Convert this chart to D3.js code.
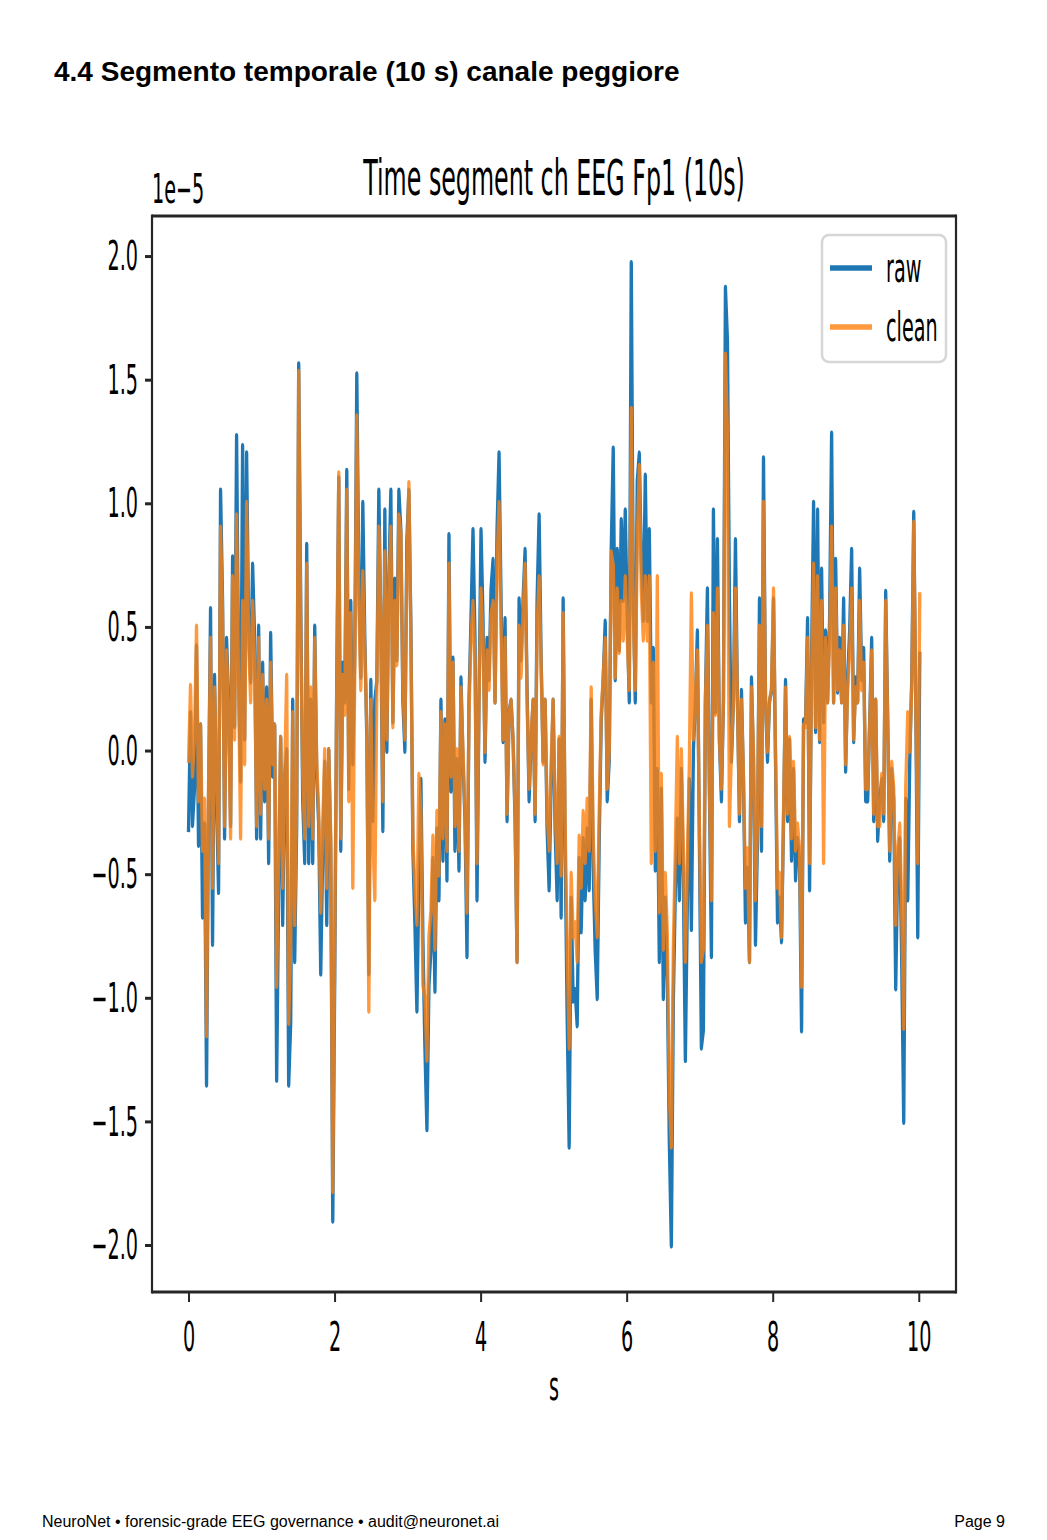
<!DOCTYPE html>
<html>
<head>
<meta charset="utf-8">
<script src="https://cdn.jsdelivr.net/npm/d3@7"></script>
<style>
  html, body { margin: 0; padding: 0; background: #fff; }
  svg { display: block; }
</style>
</head>
<body>
<svg id="page" width="1047" height="1540"></svg>
<script>
// values in units of 1e-5 (V), one sample every SAMPLE_STEP seconds
const SAMPLE_STEP = 0.027435;

const rawValues = [
  -0.33, 0.15, -0.30, -0.15, 0.42, -0.38, 0.10, -0.67, -0.30, -1.35,
  -0.20, 0.57, -0.78, 0.30, -0.20, -0.57, 1.05, 0.60, -0.35, 0.45,
  0.20, -0.30, 0.78, 0.10, 1.27, 0.30, -0.12, 1.23, 0.05, 1.20,
  0.50, 0.28, 0.75, 0.45, -0.35, 0.50, -0.35, 0.35, -0.20, 0.25,
  -0.45, 0.47, -0.10, 0.10, -1.33, -0.55, 0.05, -0.70, -0.10, 0.00,
  -1.35, -1.10, 0.20, -0.85, -0.30, 1.56, 0.60, -0.20, -0.45, 0.83,
  -0.45, 0.20, -0.45, 0.50, -0.10, -0.30, -0.90, -0.40, -0.05, -0.70,
  0.00, -0.40, -1.90, -0.90, 0.30, 1.10, -0.40, 0.35, 0.20, 1.13,
  -0.15, 0.60, -0.05, 0.40, 1.52, 0.70, 0.30, 1.00, 0.45, 0.05,
  -0.90, 0.28, -0.28, 0.20, 0.28, 1.05, 0.50, -0.32, 0.97, 0.00,
  0.69, 1.05, 0.12, 0.69, 0.37, 1.05, 0.89, 0.20, 0.00, 0.85,
  1.05, 0.50, -0.40, -0.70, -1.05, -0.52, -0.12, -0.77, -1.20, -1.53,
  -0.95, -0.81, -0.44, -0.97, -0.32, -0.60, 0.20, -0.44, 0.12, -0.52,
  0.87, -0.16, 0.37, -0.40, -0.04, -0.48, 0.29, -0.04, -0.28, -0.83,
  0.20, 0.53, 0.89, 0.45, -0.60, 0.20, 0.89, 0.53, -0.04, 0.45,
  0.29, 0.65, 0.77, 0.20, 0.89, 1.20, 0.61, 0.04, 0.53, -0.28,
  0.16, 0.20, 0.04, -0.28, -0.85, 0.61, 0.37, 0.61, 0.81, 0.24,
  -0.20, 0.04, 0.20, -0.28, 0.61, 0.95, 0.37, -0.04, 0.20, -0.32,
  -0.56, -0.12, 0.20, -0.32, -0.60, 0.04, -0.67, 0.61, -0.40, -1.07,
  -1.60, -0.60, -1.01, -0.97, -1.11, -0.44, -0.73, -0.36, -0.60, -0.32,
  -0.56, 0.20, -0.48, -0.81, -1.00, -0.36, 0.12, 0.29, 0.52, -0.20,
  -0.04, 0.81, 1.22, 0.29, 0.81, 0.41, 0.93, 0.61, 0.97, 0.53,
  0.20, 1.97, 0.61, 0.20, 1.09, 1.20, 0.77, 0.53, 1.11, 0.53,
  0.89, 0.20, 0.41, -0.48, -0.08, -0.85, -0.16, -1.00, -0.60, -0.93,
  -1.58, -2.00, -1.01, -0.56, -0.28, -0.60, -0.08, -0.52, -1.25, -0.60,
  -0.12, -0.72, 0.00, 0.20, 0.48, -0.36, -1.20, -1.13, 0.20, 0.65,
  -0.16, -0.83, 0.97, 0.16, 0.85, 0.04, -0.20, 0.20, 1.87, 1.66,
  0.61, -0.04, 0.20, 0.85, 0.20, -0.28, 0.24, -0.12, -0.69, -0.48,
  -0.85, 0.29, -0.04, -0.78, -0.36, 0.61, -0.40, 1.18, 0.20, -0.04,
  0.20, 0.24, 0.61, -0.04, -0.69, -0.60, -0.77, -0.28, 0.28, -0.28,
  0.04, -0.44, -0.08, -0.52, -0.36, -0.44, -1.13, 0.12, 0.12, 0.53,
  -0.56, 0.37, 1.00, 0.08, 0.97, 0.04, 0.73, 0.12, 0.48, 0.20,
  0.53, 1.28, 0.20, 0.77, 0.24, 0.45, 0.20, 0.61, -0.08, 0.29,
  0.48, 0.81, 0.04, 0.29, 0.20, 0.73, 0.29, 0.41, -0.20, -0.20,
  0.12, 0.45, -0.28, 0.20, -0.36, -0.20, -0.12, -0.28, 0.64, 0.12,
  -0.44, -0.08, -0.20, -0.96, -0.44, -0.36, -0.85, -1.50, -0.20, -0.60,
  -0.04, 0.29, 0.96, 0.20, -0.75, 0.40
];

const cleanValues = [
  -0.05, 0.26, -0.10, 0.05, 0.50, -0.20, 0.10, -0.40, -0.20, -1.15,
  -0.15, 0.45, -0.55, 0.25, -0.10, -0.45, 0.90, 0.55, -0.30, 0.40,
  0.15, -0.35, 0.70, 0.05, 0.95, 0.25, -0.35, 0.60, -0.05, 1.00,
  0.45, 0.20, 0.60, 0.35, -0.30, 0.45, -0.25, 0.30, -0.15, 0.20,
  -0.35, 0.35, -0.05, 0.10, -0.95, -0.40, 0.05, -0.55, -0.10, 0.30,
  -1.10, -0.80, 0.15, -0.70, -0.20, 1.53, 0.50, -0.10, -0.35, 0.75,
  -0.30, 0.25, -0.35, 0.45, -0.05, -0.25, -0.65, -0.30, 0.00, -0.55,
  0.00, -0.35, -1.78, -0.75, 0.25, 1.12, -0.35, 0.30, 0.15, 1.05,
  -0.20, 0.55, -0.55, 0.35, 1.35, 0.60, 0.25, 0.72, 0.40, 0.10,
  -1.05, 0.20, -0.35, -0.60, 0.25, 0.90, 0.55, -0.20, 0.80, 0.05,
  0.65, 0.90, 0.10, 0.60, 0.35, 0.95, 0.88, 0.25, 0.05, 0.75,
  1.08, 0.45, -0.35, -0.55, -0.70, -0.10, -0.25, -0.95, -1.00, -1.25,
  -0.75, -0.65, -0.35, -0.80, -0.25, -0.50, 0.15, -0.35, 0.10, -0.40,
  0.75, -0.10, 0.35, -0.30, 0.00, -0.40, 0.25, 0.00, -0.25, -0.65,
  0.15, 0.45, 0.60, 0.35, -0.45, 0.20, 0.65, 0.45, 0.00, 0.40,
  0.25, 0.55, 0.60, 0.20, 0.75, 1.00, 0.50, 0.05, 0.45, -0.25,
  0.15, 0.20, 0.05, -0.25, -0.85, 0.50, 0.30, 0.55, 0.75, 0.20,
  -0.15, 0.05, 0.20, -0.25, 0.50, 0.70, 0.35, -0.05, 0.20, -0.25,
  -0.40, -0.05, 0.20, -0.25, -0.45, 0.05, -0.50, 0.55, -0.30, -0.80,
  -1.20, -0.50, -0.75, -0.70, -0.85, -0.35, -0.55, -0.25, -0.45, -0.20,
  -0.40, 0.25, -0.35, -0.60, -0.75, -0.25, 0.15, 0.30, 0.45, -0.15,
  0.00, 0.80, 0.75, 0.30, 0.65, 0.40, 0.60, 0.45, 0.70, 0.45,
  0.25, 1.38, 0.55, 0.25, 0.85, 1.15, 0.65, 0.45, 0.70, 0.45,
  0.70, -0.45, 0.35, -0.40, 0.70, -0.65, -0.10, -0.80, -0.50, -0.75,
  -1.40, -1.60, -0.80, -0.40, 0.05, -0.45, 0.00, -0.40, -0.85, -0.45,
  -0.05, 0.63, 0.05, 0.20, 0.40, -0.30, -0.85, -0.80, 0.20, 0.50,
  -0.15, -0.60, 0.55, 0.15, 0.65, 0.05, -0.15, 0.20, 1.60, 1.30,
  -0.30, 0.00, 0.20, 0.65, 0.20, -0.25, 0.20, -0.10, -0.55, -0.40,
  -0.85, 0.25, 0.00, -0.60, -0.30, 0.50, -0.30, 1.00, 0.20, 0.00,
  0.20, 0.25, 0.65, 0.00, -0.55, -0.50, -0.75, -0.25, 0.25, -0.25,
  0.05, -0.35, -0.05, -0.40, -0.30, -0.40, -0.95, 0.10, 0.10, 0.45,
  -0.45, 0.30, 0.75, 0.10, 0.70, 0.05, 0.60, -0.45, 0.45, 0.20,
  0.45, 0.90, 0.20, 0.65, 0.25, 0.40, 0.20, 0.50, -0.05, 0.25,
  0.40, 0.65, 0.05, 0.25, 0.20, 0.60, 0.25, 0.35, -0.15, -0.15,
  0.10, 0.40, -0.25, 0.20, -0.30, -0.30, -0.10, -0.25, 0.60, 0.10,
  -0.40, -0.05, -0.15, -0.70, -0.40, -0.30, -0.65, -1.12, -0.15, 0.15,
  0.00, 0.25, 0.92, 0.20, -0.45, 0.64
];

const seriesNames = ['raw', 'clean'];
const seriesColors = ['#1f77b4', '#ff7f0e'];
const xTicks = [0, 2, 4, 6, 8, 10];
const yTicks = [-2.0, -1.5, -1.0, -0.5, 0.0, 0.5, 1.0, 1.5, 2.0];

// the matplotlib figure was squeezed sideways when placed in the report
const SQ = 0.48;
const plot = { left: 152, right: 956, top: 216, bottom: 1292 };

const svg = d3.select('#page');
svg.append('rect').attr('width', 1047).attr('height', 1540).attr('fill', '#fff');

// page header / footer
svg.append('text')
  .attr('x', 54).attr('y', 81)
  .style('font-family', '"Liberation Sans", Arial, sans-serif')
  .style('font-weight', 'bold')
  .style('font-size', '28px')
  .text('4.4 Segmento temporale (10 s) canale peggiore');

svg.append('text')
  .attr('x', 42).attr('y', 1527)
  .style('font-family', '"Liberation Sans", Arial, sans-serif')
  .style('font-size', '16px')
  .text('NeuroNet \u2022 forensic-grade EEG governance \u2022 audit@neuronet.ai');

svg.append('text')
  .attr('x', 1005).attr('y', 1527)
  .attr('text-anchor', 'end')
  .style('font-family', '"Liberation Sans", Arial, sans-serif')
  .style('font-size', '16px')
  .text('Page 9');

const xScale = d3.scaleLinear().domain([-0.5, 10.51]).range([plot.left, plot.right]);
const yScale = d3.scaleLinear().domain([-2.19, 2.162]).range([plot.bottom, plot.top]);
// same x mapping, in the un-squeezed space used for the traces
const xWide = xScale.copy().range([plot.left / SQ, plot.right / SQ]);

const mplFont = '"DejaVu Sans", sans-serif';

// traces
const traces = svg.append('g').attr('transform', `scale(${SQ},1)`);
const line = d3.line()
  .x((d, i) => xWide(i * SAMPLE_STEP))
  .y(d => yScale(d));

[rawValues, cleanValues].forEach((vals, k) => {
  traces.append('path')
    .datum(vals)
    .attr('fill', 'none')
    .attr('stroke', seriesColors[k])
    .attr('stroke-opacity', k === 1 ? 0.8 : 1)
    .attr('stroke-width', 7)
    .attr('stroke-linejoin', 'round')
    .attr('d', line);
});

// axes
const yAxis = svg.append('g')
  .attr('transform', `translate(${plot.left},0)`)
  .call(d3.axisLeft(yScale).tickValues(yTicks).tickSize(7).tickFormat(d3.format('.1f')));
yAxis.select('.domain').remove();
yAxis.selectAll('line').attr('stroke', '#262626').attr('stroke-width', 3);
yAxis.selectAll('text')
  .attr('x', null)
  .attr('dy', '0.34em')
  .attr('transform', `translate(-14,0) scale(${SQ},1)`)
  .attr('fill', '#000')
  .style('font-family', mplFont)
  .style('font-size', '40px');

const xAxis = svg.append('g')
  .attr('transform', `translate(0,${plot.bottom})`)
  .call(d3.axisBottom(xScale).tickValues(xTicks).tickSize(10).tickPadding(21).tickFormat(d3.format('d')));
xAxis.select('.domain').remove();
xAxis.selectAll('line').attr('stroke', '#262626').attr('stroke-width', 2);
xAxis.selectAll('text')
  .attr('transform', `scale(${SQ},1)`)
  .attr('fill', '#000')
  .style('font-family', mplFont)
  .style('font-size', '40px');

// spines
const spines = svg.append('g').attr('stroke', '#262626').attr('fill', 'none');
spines.append('line').attr('x1', plot.left).attr('x2', plot.right).attr('y1', plot.top).attr('y2', plot.top).attr('stroke-width', 3);
spines.append('line').attr('x1', plot.left).attr('x2', plot.right).attr('y1', plot.bottom).attr('y2', plot.bottom).attr('stroke-width', 3);
spines.append('line').attr('x1', plot.left).attr('x2', plot.left).attr('y1', plot.top - 1.5).attr('y2', plot.bottom + 1.5).attr('stroke-width', 2.2);
spines.append('line').attr('x1', plot.right).attr('x2', plot.right).attr('y1', plot.top - 1.5).attr('y2', plot.bottom + 1.5).attr('stroke-width', 2.2);

// squeezed text helper
function mplText(x, y, str, size, anchor) {
  return svg.append('text')
    .attr('transform', `translate(${x},${y}) scale(${SQ},1)`)
    .attr('text-anchor', anchor || 'start')
    .style('font-family', mplFont)
    .style('font-size', size + 'px')
    .attr('fill', '#000')
    .text(str);
}

mplText((plot.left + plot.right) / 2, 195, 'Time segment ch EEG Fp1 (10s)', 49.5, 'middle');
mplText(plot.left, 203, '1e\u22125', 40, 'start');
mplText((plot.left + plot.right) / 2, 1400, 's', 40, 'middle');

// legend
const legend = svg.append('g').attr('transform', 'translate(822,235)');
legend.append('rect')
  .attr('width', 124).attr('height', 127)
  .attr('rx', 7)
  .attr('fill', '#fff').attr('fill-opacity', 0.8)
  .attr('stroke', '#d6d6d6').attr('stroke-width', 2.5);

seriesNames.forEach((name, k) => {
  const yy = 33 + k * 59;
  legend.append('line')
    .attr('x1', 8).attr('x2', 50).attr('y1', yy).attr('y2', yy)
    .attr('stroke', seriesColors[k])
    .attr('stroke-opacity', k === 1 ? 0.8 : 1)
    .attr('stroke-width', 5.5);
  legend.append('text')
    .attr('transform', `translate(64,${yy + 14}) scale(${SQ},1)`)
    .style('font-family', mplFont)
    .style('font-size', '40px')
    .attr('fill', '#000')
    .text(name);
});
</script>
</body>
</html>
